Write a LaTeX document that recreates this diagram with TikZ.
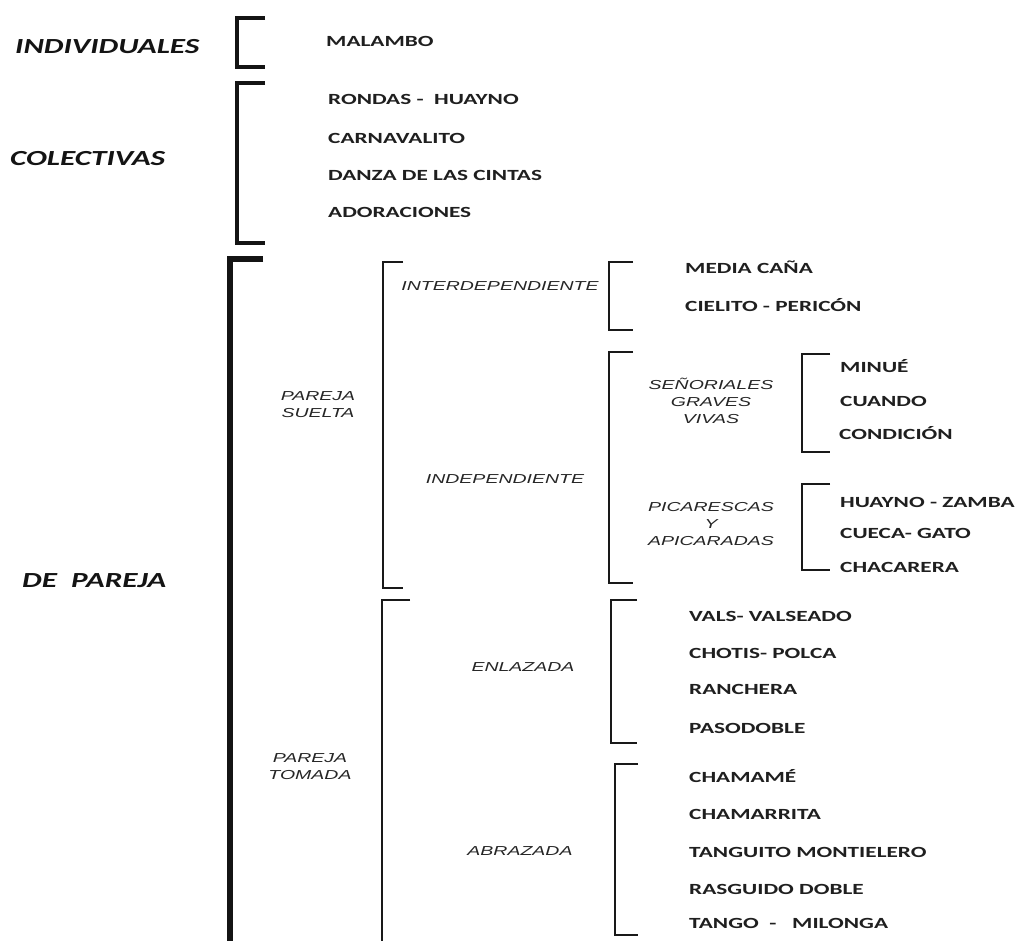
\documentclass[tikz,border=0pt]{standalone}
\usepackage{fontspec}
\setmainfont{Carlito}
\newfontfamily\labfont{Liberation Sans}
\usepackage{graphicx}
\newcommand{\hs}[1]{\scalebox{1.5}[1]{#1}}
\newcommand{\hsc}[1]{\scalebox{1.45}[1]{#1}}
\newcommand{\hst}[1]{\scalebox{1.5}[1]{\begin{tabular}{@{}c@{}}#1\end{tabular}}}
\tikzset{
  item/.style={anchor=base west, inner sep=0pt, font=\fontsize{15.5}{18}\selectfont\bfseries, text=black!88},
  cat/.style={anchor=base west, inner sep=0pt, font=\fontsize{21.5}{24}\selectfont\bfseries\itshape, text=black!92},
  sub/.style={inner sep=0pt, font=\labfont\fontsize{13}{17}\selectfont\itshape, text=black!85},
  brA/.style={line width=4pt, black!92},
  brM/.style={line width=5.5pt, black!92},
  brB/.style={line width=2.4pt, black!90},
}
\begin{document}
\begin{tikzpicture}[x=1pt,y=-1pt]
\path[use as bounding box, fill=white] (0,0) rectangle (1023,941);

% top-level categories
\node[cat] (indiv) at (15,54) {\hsc{INDIVIDUALES}};
\node[cat] (colec) at (10,166) {\hsc{COLECTIVAS}};
\node[cat] (pareja) at (22,587) {\hsc{DE\ \ PAREJA}};

% brackets of the first level
\draw[brA] (265,18) -- (237,18) -- (237,67) -- (265,67);
\draw[brA] (265,83) -- (237,83) -- (237,243) -- (265,243);
\draw[brM] (263,259) -- (230,259) -- (230,950);

% items individuales / colectivas
\node[item] (malambo) at (326,47) {\hs{MALAMBO}};
\node[item] (rondas) at (328,105) {\hs{RONDAS -\ \ HUAYNO}};
\node[item] (carna) at (328,144) {\hs{CARNAVALITO}};
\node[item] (danza) at (328,181) {\hs{DANZA DE LAS CINTAS}};
\node[item] (ador) at (328,218) {\hs{ADORACIONES}};

% de pareja: second level
\node[sub] (suelta) at (318,406) {\hst{PAREJA\\SUELTA}};
\node[sub] (tomada) at (310,768) {\hst{PAREJA\\TOMADA}};
\draw[brB] (403,262) -- (383,262) -- (383,588) -- (403,588);
\draw[brB] (410,600) -- (382,600) -- (382,950);

% third level
\node[sub] (interdep) at (500,286) {\hs{INTERDEPENDIENTE}};
\node[sub] (indep) at (505,479) {\hs{INDEPENDIENTE}};
\node[sub] (enlaz) at (523,667) {\hs{ENLAZADA}};
\node[sub] (abraz) at (520,851) {\hs{ABRAZADA}};
\draw[brB] (633,262) -- (609,262) -- (609,330) -- (633,330);
\draw[brB] (633,352) -- (609,352) -- (609,583) -- (633,583);
\draw[brB] (637,600) -- (611,600) -- (611,743) -- (637,743);
\draw[brB] (638,764) -- (615,764) -- (615,935) -- (638,935);

% interdependiente items
\node[item] (media) at (685,274) {\hs{MEDIA CAÑA}};
\node[item] (cielito) at (685,312) {\hs{CIELITO - PERICÓN}};

% independiente subgroups
\node[sub] (senor) at (711,403) {\hst{SEÑORIALES\\GRAVES\\VIVAS}};
\node[sub] (picar) at (711,525) {\hst{PICARESCAS\\Y\\APICARADAS}};
\draw[brB] (830,354) -- (802,354) -- (802,452) -- (830,452);
\draw[brB] (830,484) -- (802,484) -- (802,570) -- (830,570);

\node[item] (minue) at (840,373) {\hs{MINUÉ}};
\node[item] (cuando) at (840,406) {\hs{CUANDO}};
\node[item] (condic) at (839,439) {\hs{CONDICIÓN}};
\node[item] (huayno) at (840,507) {\hs{HUAYNO - ZAMBA}};
\node[item] (cueca) at (840,538) {\hs{CUECA- GATO}};
\node[item] (chaca) at (840,572) {\hs{CHACARERA}};

% enlazada items
\node[item] (vals) at (689,621) {\hs{VALS- VALSEADO}};
\node[item] (chotis) at (689,658) {\hs{CHOTIS- POLCA}};
\node[item] (ranch) at (689,694) {\hs{RANCHERA}};
\node[item] (paso) at (689,733) {\hs{PASODOBLE}};

% abrazada items
\node[item] (chamame) at (689,782) {\hs{CHAMAMÉ}};
\node[item] (chamarr) at (689,819) {\hs{CHAMARRITA}};
\node[item] (tanguito) at (689,857) {\hs{TANGUITO MONTIELERO}};
\node[item] (rasg) at (689,894) {\hs{RASGUIDO DOBLE}};
\node[item] (tango) at (689,928) {\hs{TANGO\ \ -\ \ \ MILONGA}};
\end{tikzpicture}
\end{document}
